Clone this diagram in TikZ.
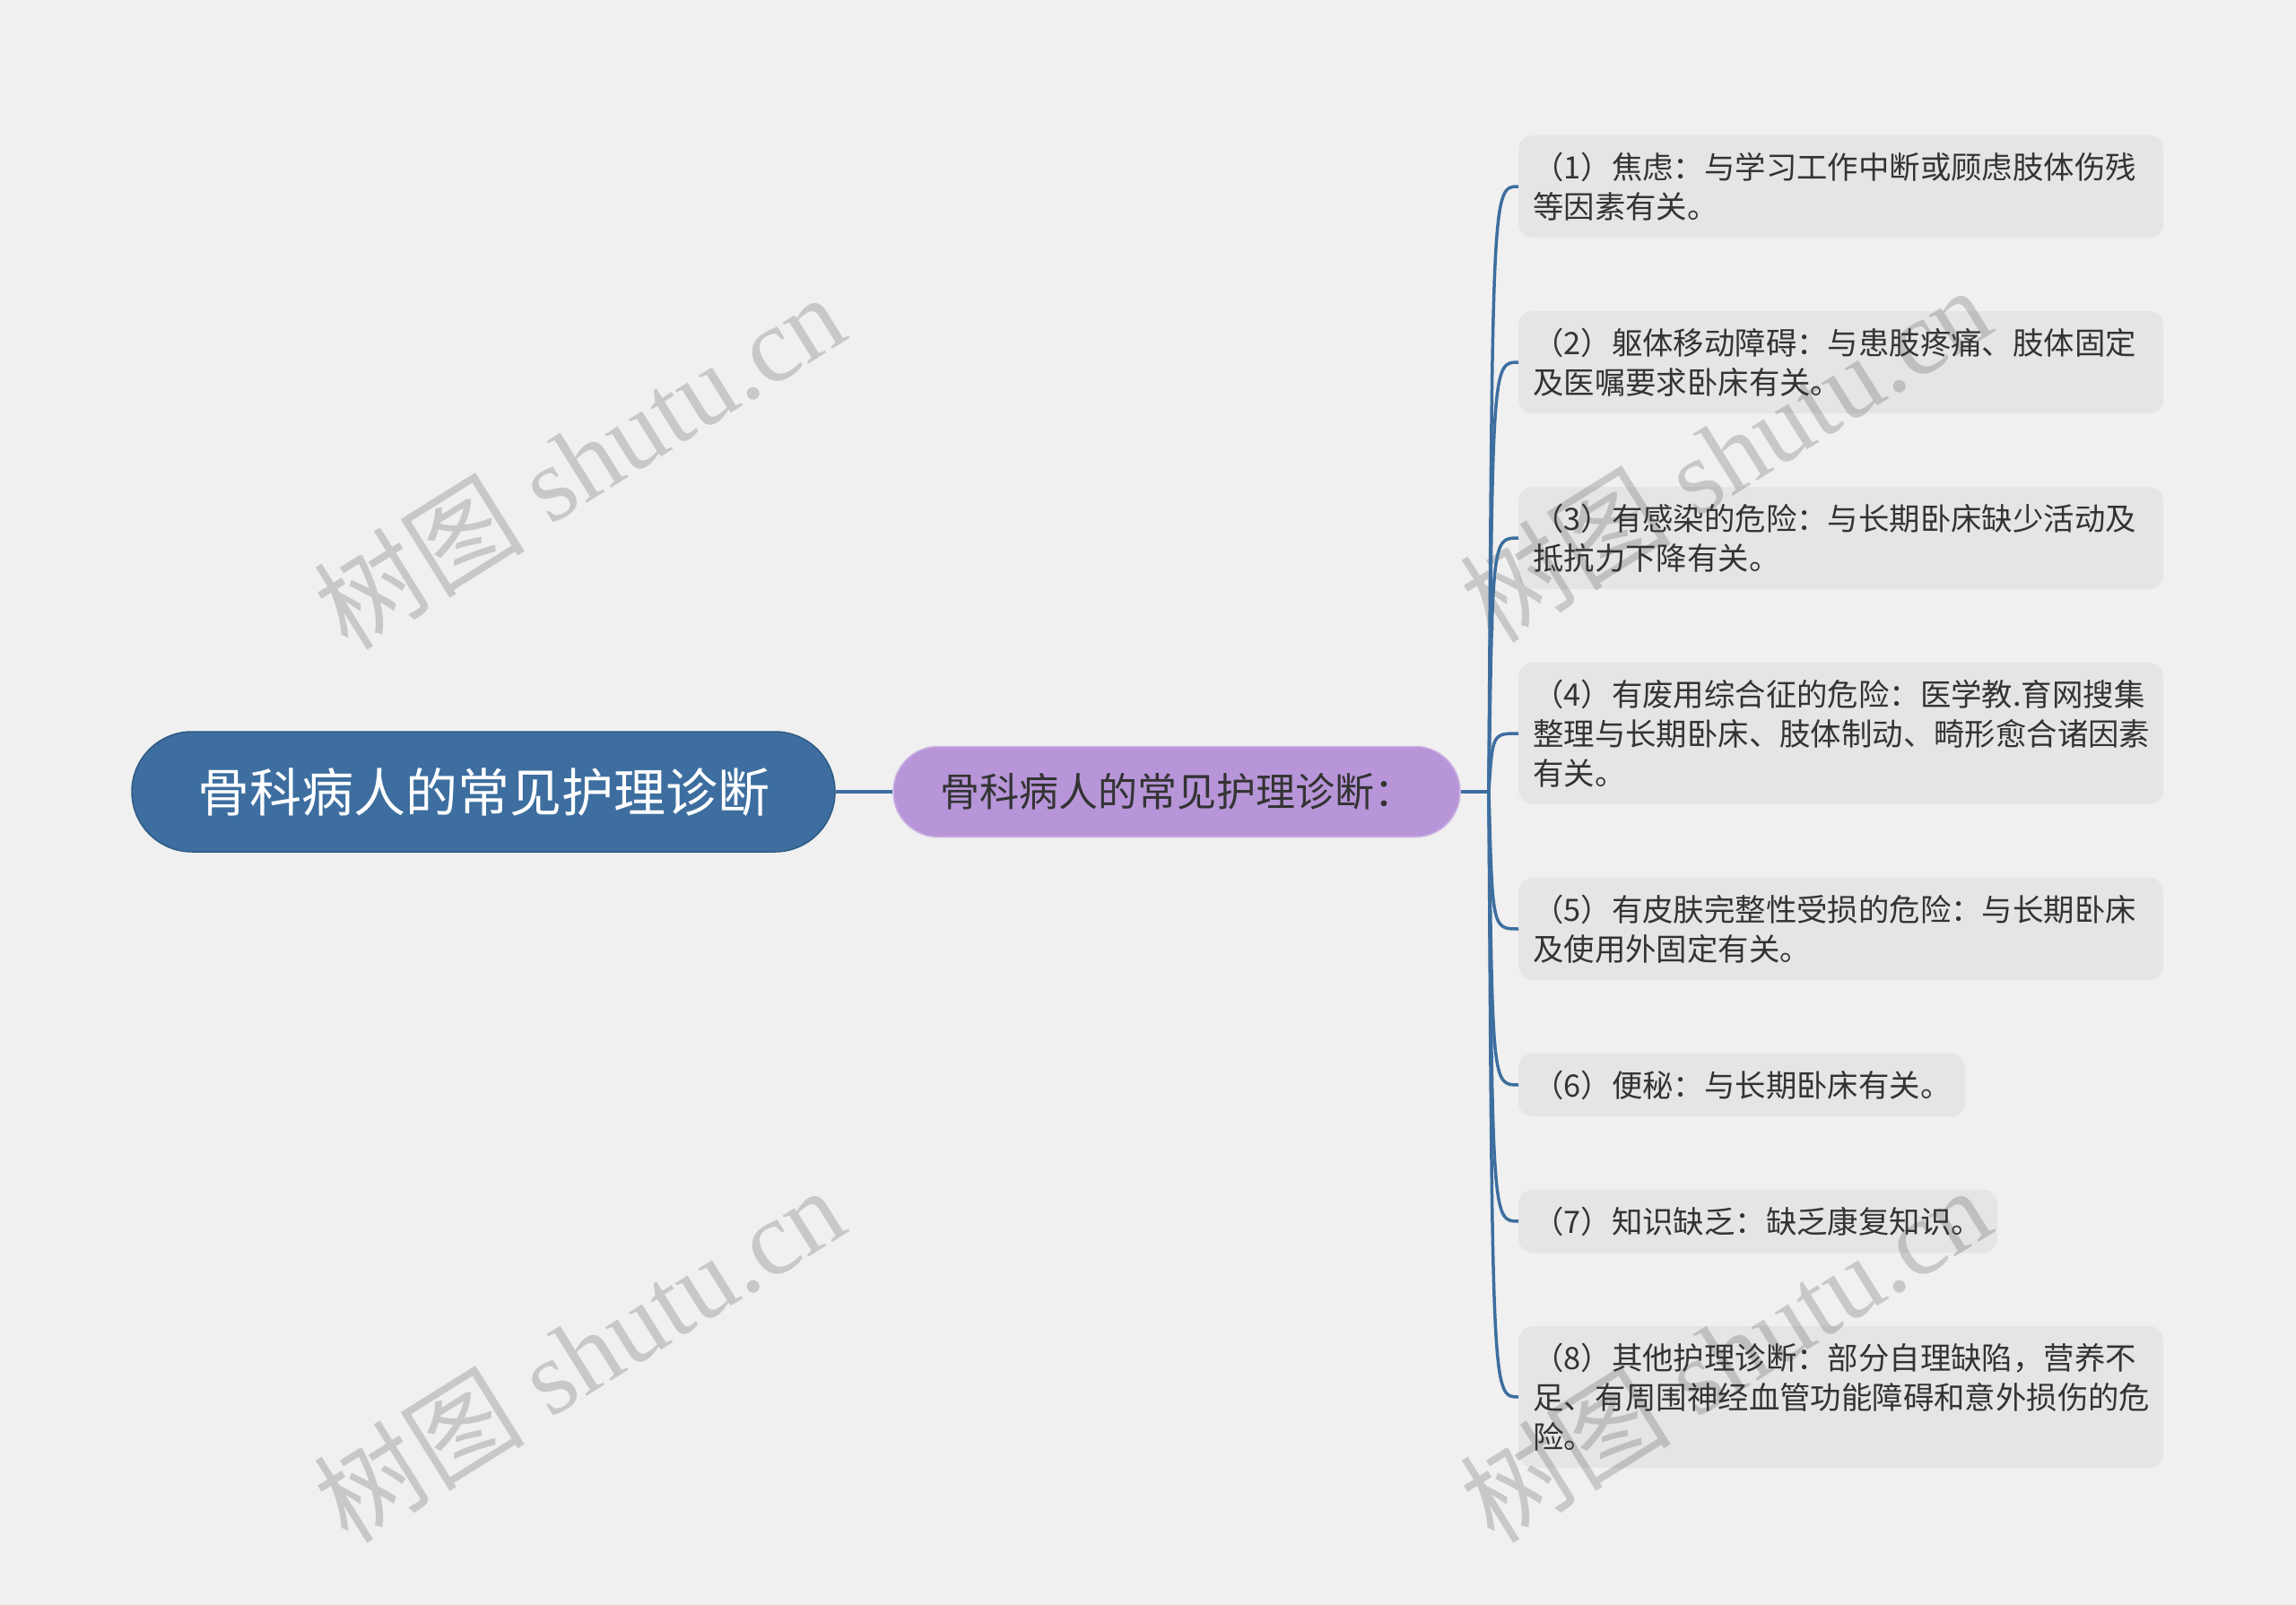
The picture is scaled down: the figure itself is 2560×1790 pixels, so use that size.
\documentclass[tikz,border=0pt]{standalone}
\usepackage{fontspec}
\setmainfont{Noto Sans CJK SC}
\newfontfamily\wmfont{Liberation Serif}
\newfontfamily\wmcjk{Noto Sans CJK SC}
\usetikzlibrary{calc}

\definecolor{bgcol}{HTML}{F0F0F0}
\definecolor{rootcol}{HTML}{3D6E9F}
\definecolor{rootline}{HTML}{2F5B85}
\definecolor{midcol}{HTML}{B795D8}
\definecolor{txtcol}{HTML}{333333}
\definecolor{wmcol}{HTML}{C8C8C8}

\begin{document}
\begin{tikzpicture}[x=1pt,y=-1pt,
    root/.style={fill=rootcol,draw=rootline,line width=1.5pt,rounded corners=67pt,
      minimum width=784pt,minimum height=134pt,text=white,
      font=\fontsize{58}{70}\selectfont},
    midnode/.style={fill=midcol,draw=midcol!70!white,line width=1.5pt,rounded corners=50pt,
      minimum width=632pt,minimum height=101pt,text=txtcol,
      font=\fontsize{44}{52}\selectfont},
    leaf/.style={anchor=west,fill=black,fill opacity=0.045,text opacity=1,
      rounded corners=16pt,text=txtcol,
      inner xsep=16pt,inner ysep=19pt,align=left,text width=#1,
      font=\fontsize{34.4}{44}\selectfont},
    leaf/.default=687pt,
    branch/.style={draw=rootcol,line width=3.5pt},
    wm/.style={text=wmcol,rotate=32,font=\wmfont\fontsize{118}{120}\selectfont}]
  \fill[bgcol] (0,0) rectangle (2560,1790);

  % watermarks
  \node[wm] (w1) at (645,514) {{\wmcjk 树图} shutu.cn};
  \node[wm] (w2) at (645,1510) {{\wmcjk 树图} shutu.cn};
  \node[wm] (w3) at (1923,506) {{\wmcjk 树图} shutu.cn};
  \node[wm] (w4) at (1923,1510) {{\wmcjk 树图} shutu.cn};

  \node[root] (r) at (539,883) {骨科病人的常见护理诊断};
  \node[midnode] (m) at (1312,883) {骨科病人的常见护理诊断：};
  \coordinate (t) at (1660,883);

  \node[leaf] (l1) at (1693,208) {（1）焦虑：与学习工作中断或顾虑肢体伤残\\等因素有关。};
  \node[leaf] (l2) at (1693,404) {（2）躯体移动障碍：与患肢疼痛、肢体固定\\及医嘱要求卧床有关。};
  \node[leaf] (l3) at (1693,600) {（3）有感染的危险：与长期卧床缺少活动及\\抵抗力下降有关。};
  \node[leaf] (l4) at (1693,818) {（4）有废用综合征的危险：医学教.育网搜集\\整理与长期卧床、肢体制动、畸形愈合诸因素\\有关。};
  \node[leaf] (l5) at (1693,1036) {（5）有皮肤完整性受损的危险：与长期卧床\\及使用外固定有关。};
  \node[leaf=466pt] (l6) at (1693,1210) {（6）便秘：与长期卧床有关。};
  \node[leaf=502pt] (l7) at (1693,1362) {（7）知识缺乏：缺乏康复知识。};
  \node[leaf] (l8) at (1693,1558) {（8）其他护理诊断：部分自理缺陷，营养不\\足、有周围神经血管功能障碍和意外损伤的危\\险。};

  \draw[branch] (r.east) -- (m.west);
  \draw[branch] (m.east) -- (t);
  \foreach \n in {l1,l2,l3,l4,l5,l6,l7,l8}
  {
    \draw[branch] (t) .. controls ($(t |- \n.west)+(4,0)$) and ($(t |- \n.west)+(4,0)$) .. (\n.west);
  }
\end{tikzpicture}
\end{document}
